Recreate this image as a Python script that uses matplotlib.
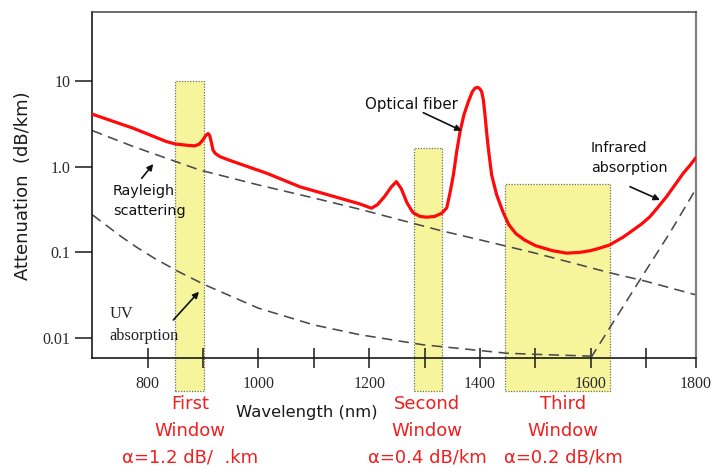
import matplotlib
matplotlib.use("Agg")
import matplotlib.pyplot as plt
from matplotlib.patches import Rectangle
from matplotlib.ticker import FixedLocator, NullFormatter, NullLocator

# ---------------- data ----------------
fiber_nm = [700, 774, 834, 850, 870, 885, 893, 900, 905, 909, 912, 915, 918, 922, 931,
            945, 967, 1015, 1075, 1135, 1183, 1204, 1215, 1228, 1240, 1249, 1258, 1268,
            1279, 1292, 1304, 1318, 1331, 1340, 1346, 1352, 1358, 1364, 1371, 1379, 1386,
            1391, 1396, 1400, 1403, 1406, 1409, 1412, 1415, 1421, 1430, 1442, 1452, 1465,
            1480, 1500, 1530, 1556, 1580, 1600, 1616, 1634, 1658, 1677, 1692, 1707, 1722,
            1737, 1752, 1767, 1779, 1790]
fiber_att = [4.07, 2.79, 1.95, 1.83, 1.77, 1.74, 1.82, 2.05, 2.3, 2.42, 2.3, 1.9, 1.55,
             1.42, 1.30, 1.20, 1.07, 0.835, 0.58, 0.45, 0.367, 0.327, 0.36, 0.45, 0.58,
             0.667, 0.55, 0.38, 0.29, 0.262, 0.257, 0.262, 0.286, 0.33, 0.5, 0.80, 1.5,
             2.55, 4.0, 5.7, 7.4, 8.2, 8.35, 8.0, 7.45, 6.0, 4.0, 2.5, 1.63, 0.80, 0.47,
             0.29, 0.21, 0.165, 0.14, 0.12, 0.105, 0.098, 0.10, 0.105, 0.112, 0.122, 0.15,
             0.183, 0.215, 0.261, 0.34, 0.447, 0.61, 0.835, 1.03, 1.27]

rayleigh_nm = [700, 774, 894, 1000, 1100, 1183, 1328, 1400, 1500, 1634, 1700, 1790]
rayleigh_att = [2.62, 1.71, 0.91, 0.61, 0.43, 0.318, 0.18, 0.14, 0.098, 0.058, 0.046, 0.032]

uv_nm = [700, 726, 752, 780, 812, 855, 903, 1000, 1100, 1183, 1297, 1400, 1448, 1500, 1600]
uv_att = [0.274, 0.205, 0.153, 0.115, 0.0855, 0.060, 0.042, 0.0224, 0.0143, 0.011,
          0.0084, 0.0072, 0.0067, 0.0065, 0.0062]

ir_nm = [1600, 1688, 1743, 1790]
ir_att = [0.0059, 0.047, 0.17, 0.55]

window_start = [850, 1281, 1445]
window_end = [902, 1331, 1634]
window_top = [10, 1.66, 0.63]
window_bottom = 0.00243
window_names = ["First", "Second", "Third"]
window_alpha = ["α=1.2 dB/  .km", "α=0.4 dB/km", "α=0.2 dB/km"]

# the drawn axis ends at the "1800" tick
x_min, x_max = 700, 1790
xticks = [800, 900, 1000, 1100, 1200, 1300, 1400, 1500, 1600, 1700, 1790]
xtick_labels = ["800", "", "1000", "", "1200", "", "1400", "", "1600", "", "1800"]
yticks = [0.01, 0.1, 1.0, 10]
ytick_labels = ["0.01", "0.1", "1.0", "10"]

# ---------------- figure ----------------
W, H = 712, 469
fig = plt.figure(figsize=(W / 100, H / 100), dpi=100)
ax = fig.add_axes([92.3 / W, 1 - 357.7 / H, (696 - 92.3) / W, (357.7 - 12) / H])
ax.set_yscale("log")
ax.set_xlim(x_min, x_max)
ax.set_ylim(0.00594, 63)

yellow = "#f6f59c"
for x0, x1, top in zip(window_start, window_end, window_top):
    ax.add_patch(Rectangle((x0, window_bottom), x1 - x0, top - window_bottom,
                           facecolor=yellow, edgecolor="#707060", linestyle=(0, (1, 1.2)),
                           linewidth=0.9, clip_on=False, zorder=0.5))

dash = (0, (6.5, 4))
dcol = "#4a4a4a"
ax.plot(rayleigh_nm, rayleigh_att, color=dcol, lw=1.15, linestyle=dash, zorder=2)
ax.plot(uv_nm, uv_att, color=dcol, lw=1.15, linestyle=dash, zorder=2)
ax.plot(ir_nm, ir_att, color=dcol, lw=1.15, linestyle=dash, zorder=2, clip_on=False)
ax.plot(fiber_nm, fiber_att, color="#ff0a0a", lw=2.3, zorder=3,
        solid_capstyle="round", solid_joinstyle="round")

# spines
for s in ["left", "bottom"]:
    ax.spines[s].set_color("#1a1a1a")
    ax.spines[s].set_linewidth(1.2)
ax.spines["top"].set_color("#444444")
ax.spines["top"].set_linewidth(1.1)
ax.spines["right"].set_color("#808080")
ax.spines["right"].set_linewidth(1.6)

serif = "Liberation Serif"
ax.set_xticks(xticks)
ax.set_xticklabels(xtick_labels, fontfamily=serif, fontsize=11.5, color="#2a2a2a")
ax.xaxis.set_minor_locator(NullLocator())
ax.tick_params(axis="x", which="major", direction="inout", length=13.7, width=1.1,
               color="#1a1a1a", pad=6.5)

ax.set_yticks(yticks)
ax.set_yticklabels(ytick_labels, fontfamily=serif, fontsize=11.5, color="#2a2a2a")
ax.yaxis.set_minor_locator(FixedLocator(yticks))
ax.yaxis.set_minor_formatter(NullFormatter())
ax.tick_params(axis="y", which="major", direction="out", length=12.2, width=1.1,
               color="#1a1a1a", pad=3.6)
ax.tick_params(axis="y", which="minor", direction="in", length=7.7, width=1.1,
               color="#1a1a1a")


def fp(x, y):
    """reference pixel (from top-left) -> figure fraction"""
    return (x / W, 1 - y / H)


sans = "DejaVu Sans"
fig.text(*fp(23, 186), "Attenuation  (dB/km)", rotation=90, ha="center", va="center",
         fontfamily=sans, fontsize=13, color="#1a1a1a")
fig.text(*fp(306.7, 412), "Wavelength (nm)", ha="center", va="center",
         fontfamily=sans, fontsize=11.8, color="#1a1a1a")

# window labels
label_x = [190, 427, 563]
for cx, name, alpha in zip(label_x, window_names, window_alpha):
    for txt, y in zip([name, "Window", alpha], [404, 430.7, 457.7]):
        fig.text(*fp(cx, y), txt, ha="center", va="center", fontfamily=sans,
                 fontsize=13, color="#f01e1e")

# annotations
arrow = dict(arrowstyle="-|>", color="#111111", lw=1.2, mutation_scale=9,
             shrinkA=0, shrinkB=0)


def annotate(head, tail):
    ax.annotate("", xy=fp(*head), xycoords="figure fraction",
                xytext=fp(*tail), textcoords="figure fraction", arrowprops=arrow)


fig.text(*fp(365, 104), "Optical fiber", ha="left", va="center", fontfamily=sans,
         fontsize=10.8, color="#111111")
annotate((461.7, 130.7), (423.3, 112.7))

fig.text(*fp(112.7, 190.7), "Rayleigh", ha="left", va="center", fontfamily=sans,
         fontsize=10.4, color="#111111")
fig.text(*fp(112.7, 210.7), "scattering", ha="left", va="center", fontfamily=sans,
         fontsize=10.4, color="#111111")
annotate((153.3, 164), (141.7, 178.3))

fig.text(*fp(590.7, 147.7), "Infrared", ha="left", va="center", fontfamily=sans,
         fontsize=10.4, color="#111111")
fig.text(*fp(590.7, 168.3), "absorption", ha="left", va="center", fontfamily=sans,
         fontsize=10.4, color="#111111")
annotate((660, 200), (630, 186.7))

fig.text(*fp(109.3, 314), "UV", ha="left", va="center", fontfamily=serif,
         fontsize=11.8, color="#222222")
fig.text(*fp(109.3, 336), "absorption", ha="left", va="center", fontfamily=serif,
         fontsize=11.8, color="#222222")
annotate((199, 291.7), (173.3, 320))

fig.savefig("out.png", dpi=100)
